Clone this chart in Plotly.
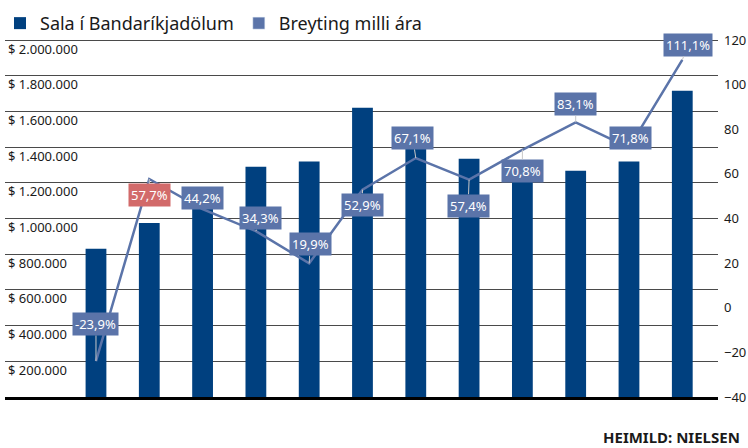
import plotly.graph_objects as go

categories = ["1", "2", "3", "4", "5", "6", "7", "8", "9", "10", "11", "12"]
sales = [830000, 975000, 1110000, 1290000, 1320000, 1620000, 1420000, 1335000, 1265000, 1268000, 1320000, 1715000]
change = [-23.9, 57.7, 44.2, 34.3, 19.9, 52.9, 67.1, 57.4, 70.8, 83.1, 71.8, 111.1]
change_labels = ["-23,9%", "57,7%", "44,2%", "34,3%", "19,9%", "52,9%", "67,1%", "57,4%", "70,8%", "83,1%", "71,8%", "111,1%"]
label_colors = ["#5b74a9", "#d26a6a"] + ["#5b74a9"] * 10
label_dx = [0, 0, 0, 5, 1, 0, -3, -1, 0, 0, 2, 6]
label_dy = [-37, 16, -11, -13, -19, 15, -20, 26, 21, -18, -10, -15]

left_tickvals = [200000, 400000, 600000, 800000, 1000000, 1200000, 1400000, 1600000, 1800000, 2000000]
left_ticktext = ["$ 200.000", "$ 400.000", "$ 600.000", "$ 800.000", "$ 1.000.000",
                 "$ 1.200.000", "$ 1.400.000", "$ 1.600.000", "$ 1.800.000", "$ 2.000.000"]
right_tickvals = [-40, -20, 0, 20, 40, 60, 80, 100, 120]

BAR = "#00407f"
LINE = "#5b74a9"
FONT = "Noto Sans"

# the plot area carries 10 px of headroom above the top gridline so that the
# top (inside, shifted) tick label is not hidden
PAD_PX = 10
AXIS_PX = 357
left_top = 2000000 + PAD_PX * 2000000 / AXIS_PX
right_top = 120 + PAD_PX * 160 / AXIS_PX

fig = go.Figure()
fig.add_trace(go.Bar(x=categories, y=sales, name="Sala í Bandaríkjadölum",
                     marker=dict(color=BAR, line=dict(width=0)), width=0.39))
fig.add_trace(go.Scatter(x=categories, y=change, yaxis="y2", mode="lines",
                         line=dict(color=LINE, width=2.5), showlegend=False,
                         name="Breyting milli ára"))
# legend entry for the line series (shown as a square, like the original)
fig.add_trace(go.Bar(x=[categories[0]], y=[None], yaxis="y2", name="Breyting milli ára",
                     marker=dict(color=LINE)))

for i, (c, v, t) in enumerate(zip(categories, change, change_labels)):
    fig.add_annotation(x=i, y=v, xref="x", yref="y2", text=t,
                       showarrow=True, arrowhead=0, arrowwidth=1, arrowcolor="#c8c8c8",
                       ax=label_dx[i], ay=label_dy[i], standoff=0,
                       bgcolor=label_colors[i], borderpad=2,
                       font=dict(family=FONT, size=13, color="white"))

fig.add_annotation(x=1, y=0, xref="paper", yref="paper", xanchor="right", yanchor="middle",
                   xshift=24, yshift=-40, showarrow=False,
                   text="<b>HEIMILD: NIELSEN</b>",
                   font=dict(family=FONT, size=15, color="#1a1a1a"))

fig.update_layout(
    width=748, height=448,
    margin=dict(l=5, r=30, t=40 - PAD_PX, b=51, autoexpand=False),
    paper_bgcolor="white", plot_bgcolor="white",
    font=dict(family=FONT, size=13, color="#1a1a1a"),
    showlegend=True,
    legend=dict(orientation="h", xref="container", yref="container",
                x=-0.0094, xanchor="left", y=0.989, yanchor="top",
                font=dict(family=FONT, size=18, color="#1a1a1a"),
                itemwidth=30, traceorder="normal", bgcolor="rgba(0,0,0,0)"),
    xaxis=dict(type="category", range=[-1.707, 11.67], showticklabels=False, ticks="",
               showgrid=False, zeroline=False, showline=True, linecolor="black", linewidth=2.5),
    yaxis=dict(range=[0, left_top], tickvals=left_tickvals, ticktext=left_ticktext,
               ticklabelposition="inside", ticklabelshift=9, ticklabelstandoff=0,
               showgrid=True, gridcolor="#4a4a4a", gridwidth=1, zeroline=False, showline=False,
               tickfont=dict(family=FONT, size=13, color="#1a1a1a")),
    yaxis2=dict(range=[-40, right_top], tickvals=right_tickvals, ticksuffix="%", overlaying="y",
                side="right", showgrid=False, zeroline=False, showline=False, ticks="",
                ticklabelstandoff=5,
                tickfont=dict(family=FONT, size=13, color="#1a1a1a")),
)

fig.write_html("out.html", config={"displayModeBar": False},
               post_script="document.body.style.margin='0';")
